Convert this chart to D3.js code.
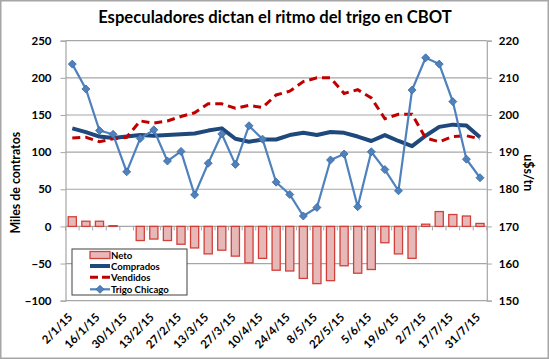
<!DOCTYPE html>
<html><head><meta charset="utf-8">
<script src="https://cdn.jsdelivr.net/npm/d3@7"></script>
<style>body{margin:0;background:#fff}svg{display:block}text{font-family:Lato,"Open Sans",sans-serif;font-weight:bold;fill:#000}</style>
</head><body><svg id="c" width="549" height="359"></svg>
<script>
const dates = ["2/1/15","9/1/15","16/1/15","23/1/15","30/1/15","6/2/15","13/2/15","20/2/15","27/2/15","6/3/15","13/3/15","20/3/15","27/3/15","3/4/15","10/4/15","17/4/15","24/4/15","1/5/15","8/5/15","15/5/15","22/5/15","29/5/15","5/6/15","12/6/15","19/6/15","26/6/15","2/7/15","10/7/15","17/7/15","24/7/15","31/7/15"];
const neto = [13,7,7,1,0,-19,-17,-19,-24,-29,-37,-32,-40,-49,-43,-59,-60,-70,-77,-73,-53,-63,-58,-22,-37,-43,3,20,16,14,4];
const comprados = [132,127,121,119,121,123,122,123,124,125,129,132,118,114,117,117,123,126,123,127,126,121,115,123,115,108,122,134,137,136,120];
const vendidos = [119,120,114,118,120,142,139,142,148,153,165,165,159,163,160,177,182,195,200,200,179,184,173,145,151,151,119,114,121,122,118];
const trigo = [213.7,207.0,195.8,194.8,184.7,193.7,196.0,187.6,190.2,178.5,187.0,194.9,186.7,197.1,193.5,181.9,178.6,172.8,175.1,187.9,189.5,175.3,190.1,185.3,179.6,206.7,215.4,213.7,203.6,188.1,183.1];
const leftTicks = [-100,-50,0,50,100,150,200,250];
const rightTicks = [150,160,170,180,190,200,210,220];
const title = "Especuladores dictan el ritmo del trigo en CBOT";

const svg = d3.select("#c");
const W=549,H=359;
const L=65.5,R=486.8,T=40.7,B=300.7;
svg.append("rect").attr("x",0.75).attr("y",0.75).attr("width",W-1.5).attr("height",H-1.5).attr("fill","#fff").attr("stroke","#A6A6A6").attr("stroke-width",1.5);

const x = d3.scaleBand().domain(dates).range([L,R]).paddingInner(0.4).paddingOuter(0.2);
const xs = d3.scaleBand().domain(dates).range([L,R]);
const yL = d3.scaleLinear().domain([-100,250]).range([B,T]);
const yR = d3.scaleLinear().domain([150,220]).range([B,T]);

function fit(sel, w){ const n=sel.node(); let fs=parseFloat(sel.attr("font-size")); const l=n.getComputedTextLength(); sel.attr("font-size",fs*w/l); }

// gridlines
svg.append("g").selectAll("line").data(leftTicks).join("line")
 .attr("x1",L).attr("x2",R).attr("y1",d=>yL(d)).attr("y2",d=>yL(d))
 .attr("stroke","#A6A6A6").attr("stroke-width",1.2);

// left axis
const ga = svg.append("g").attr("transform",`translate(${L},0)`).call(d3.axisLeft(yL).tickValues(leftTicks).tickSize(5).tickPadding(9));
ga.select(".domain").attr("stroke","#A6A6A6").attr("stroke-width",1.2);
ga.selectAll(".tick line").attr("stroke","#A6A6A6");
ga.selectAll("text").attr("font-size",11.5).attr("font-family","Lato").attr("font-weight","bold");
// right axis
const gr = svg.append("g").attr("transform",`translate(${R},0)`).call(d3.axisRight(yR).tickValues(rightTicks).tickSize(5).tickPadding(7));
gr.select(".domain").attr("stroke","#A6A6A6").attr("stroke-width",1.2);
gr.selectAll(".tick line").attr("stroke","#A6A6A6");
gr.selectAll("text").attr("font-size",11.5).attr("font-family","Lato").attr("font-weight","bold");

// x ticks at boundaries
svg.append("g").selectAll("line").data(d3.range(dates.length+1)).join("line")
 .attr("x1",i=>L+i*xs.step()).attr("x2",i=>L+i*xs.step()).attr("y1",yL(0)).attr("y2",yL(0)+4)
 .attr("stroke","#A6A6A6");
// x labels
svg.append("g").selectAll("text").data(dates.filter((d,i)=>i%2===0)).join("text")
 .attr("transform",d=>`translate(${xs(d)+xs.bandwidth()/2+1},318) rotate(-45)`)
 .attr("text-anchor","end").attr("font-size",11.5).text(d=>d);

// bars
svg.append("g").selectAll("rect").data(neto.map((v,i)=>({d:dates[i],v}))).join("rect")
 .attr("x",o=>x(o.d)).attr("width",x.bandwidth())
 .attr("y",o=>yL(Math.max(0,o.v))).attr("height",o=>Math.abs(yL(o.v)-yL(0)))
 .attr("fill","#E6B9B8").attr("stroke","#D2403A").attr("stroke-width",1.3);

const cx = d=>xs(d)+xs.bandwidth()/2;
const lineL = d3.line().x((v,i)=>cx(dates[i])).y(v=>yL(v));
svg.append("path").attr("d",lineL(comprados)).attr("fill","none").attr("stroke","#1F497D").attr("stroke-width",4).attr("stroke-linejoin","round");
svg.append("path").attr("d",lineL(vendidos)).attr("fill","none").attr("stroke","#C00000").attr("stroke-width",3).attr("stroke-dasharray","8,5");
const lineR = d3.line().x((v,i)=>cx(dates[i])).y(v=>yR(v));
svg.append("path").attr("d",lineR(trigo)).attr("fill","none").attr("stroke","#4F81BD").attr("stroke-width",2.2);
const dia = "M0,-4L4,0L0,4L-4,0Z";
svg.append("g").selectAll("path").data(trigo).join("path")
 .attr("transform",(v,i)=>`translate(${cx(dates[i])},${yR(v)})`).attr("d",dia)
 .attr("fill","#4F81BD").attr("stroke","#3A679E").attr("stroke-width",0.8);

// titles
const tt = svg.append("text").attr("x",275).attr("y",23).attr("text-anchor","middle").attr("font-size",16).text(title);
fit(tt,354);
const yt = svg.append("text").attr("transform",`translate(20,${(T+B)/2+12}) rotate(-90)`).attr("text-anchor","middle").attr("font-size",12).text("Miles de contratos");
fit(yt,102);
const rt = svg.append("text").attr("transform",`translate(524,${yR(185)+2}) rotate(90)`).attr("text-anchor","middle").attr("font-size",12).text("u$s/tn");
fit(rt,37);

// legend
const lg = svg.append("g");
lg.append("rect").attr("x",72).attr("y",249).attr("width",115).attr("height",46).attr("fill","#fff").attr("stroke","#404040").attr("stroke-width",1);
const items = ["Neto","Comprados","Vendidos","Trigo Chicago"];
const ly = [255,266,277.3,289.3];
items.forEach((name,i)=>{
  const y=ly[i];
  if(i===0) lg.append("rect").attr("x",90).attr("y",y-3.5).attr("width",20).attr("height",7).attr("fill","#E6B9B8").attr("stroke","#D2403A").attr("stroke-width",1.3);
  if(i===1) lg.append("line").attr("x1",90).attr("x2",110).attr("y1",y).attr("y2",y).attr("stroke","#1F497D").attr("stroke-width",4);
  if(i===2) lg.append("line").attr("x1",90).attr("x2",110).attr("y1",y).attr("y2",y).attr("stroke","#C00000").attr("stroke-width",3).attr("stroke-dasharray","8,4");
  if(i===3){ lg.append("line").attr("x1",90).attr("x2",110).attr("y1",y).attr("y2",y).attr("stroke","#4F81BD").attr("stroke-width",2.2);
    lg.append("path").attr("transform",`translate(100,${y})`).attr("d",dia).attr("fill","#4F81BD").attr("stroke","#3A679E").attr("stroke-width",0.8);}
  lg.append("text").attr("x",111).attr("y",y+3.5).attr("font-size",9.6).text(name);
});
</script></body></html>
